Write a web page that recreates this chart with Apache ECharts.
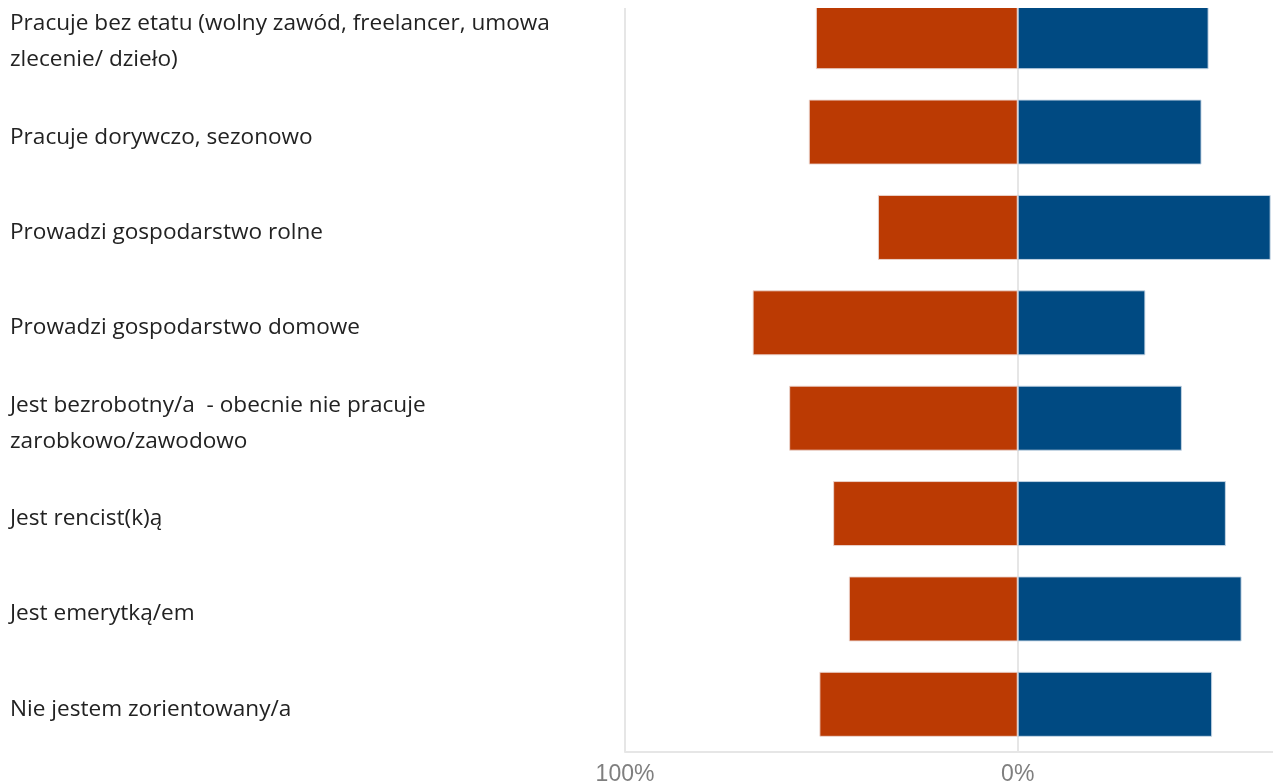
<!DOCTYPE html>
<html>
<head>
<meta charset="utf-8">
<script src="https://cdn.jsdelivr.net/npm/echarts@6/dist/echarts.min.js"></script>
<style>
html,body{margin:0;padding:0;background:#fff;overflow:hidden;}
#chart{width:1273px;height:782px;}
</style>
</head>
<body>
<div id="chart"></div>
<script>
const categories = [
  "Pracuje bez etatu (wolny zawód, freelancer, umowa\nzlecenie/ dzieło)",
  "Pracuje dorywczo, sezonowo",
  "Prowadzi gospodarstwo rolne",
  "Prowadzi gospodarstwo domowe",
  "Jest bezrobotny/a  - obecnie nie pracuje\nzarobkowo/zawodowo",
  "Jest rencist(k)ą",
  "Jest emerytką/em",
  "Nie jestem zorientowany/a"
];
const leftValues = [51.4, 53.2, 35.6, 67.5, 58.2, 47.0, 43.0, 50.5];
const rightValues = [48.6, 46.8, 64.4, 32.5, 41.8, 53.0, 57.0, 49.5];
const tickLabels = {"-100": "100%", "0": "0%"};

const chart = echarts.init(document.getElementById('chart'), null, {renderer: 'canvas'});
const option = {
  animation: false,
  backgroundColor: '#ffffff',
  grid: [
    {left: 625, right: 0, top: -11, bottom: 30, containLabel: false, outerBoundsMode: 'none'},
    {left: 625, right: 0, top: -6, bottom: 25, containLabel: false, outerBoundsMode: 'none'}
  ],
  xAxis: [
    {
      type: 'value',
      gridIndex: 0,
      min: -100,
      max: 65,
      interval: 100,
      axisLine: {show: true, lineStyle: {color: '#e6e6e6', width: 2}},
      axisTick: {show: false},
      splitLine: {show: true, showMaxLine: false, lineStyle: {color: '#e6e6e6', width: 2}},
      axisLabel: {
        showMaxLabel: false,
        margin: 11,
        color: '#7f7f7f',
        fontFamily: 'Liberation Sans, Arial, sans-serif',
        fontSize: 23,
        formatter: function (v) { return tickLabels[String(v)] || ''; }
      }
    },
    {
      type: 'value',
      gridIndex: 1,
      min: -100,
      max: 65,
      show: false
    }
  ],
  yAxis: [
    {
      type: 'category',
      gridIndex: 0,
      inverse: true,
      data: categories,
      axisLine: {show: true, lineStyle: {color: '#e6e6e6', width: 2}},
      axisTick: {show: false},
      splitLine: {show: false},
      axisLabel: {show: false}
    },
    {
      type: 'category',
      gridIndex: 1,
      inverse: true,
      data: categories,
      axisLine: {show: false},
      axisTick: {show: false},
      splitLine: {show: false},
      axisLabel: {
        margin: 615,
        align: 'left',
        verticalAlign: 'middle',
        color: '#222222',
        fontFamily: 'Open Sans, sans-serif',
        fontSize: 22.6,
        lineHeight: 36
      }
    }
  ],
  series: [
    {
      name: 'left',
      type: 'bar',
      stack: 'a',
      xAxisIndex: 0,
      yAxisIndex: 0,
      barWidth: 65,
      data: leftValues.map(v => -v),
      itemStyle: {color: '#BB3A03', borderColor: 'rgba(235,215,210,0.9)', borderWidth: 1}
    },
    {
      name: 'right',
      type: 'bar',
      stack: 'a',
      xAxisIndex: 0,
      yAxisIndex: 0,
      barWidth: 65,
      data: rightValues,
      itemStyle: {color: '#004A82', borderColor: 'rgba(200,215,230,0.9)', borderWidth: 1}
    }
  ],
  graphic: [
    {type: 'rect', left: 600, top: 0, z: 100, shape: {width: 673, height: 8}, style: {fill: '#ffffff'}}
  ]
};
chart.setOption(option);
</script>
</body>
</html>
